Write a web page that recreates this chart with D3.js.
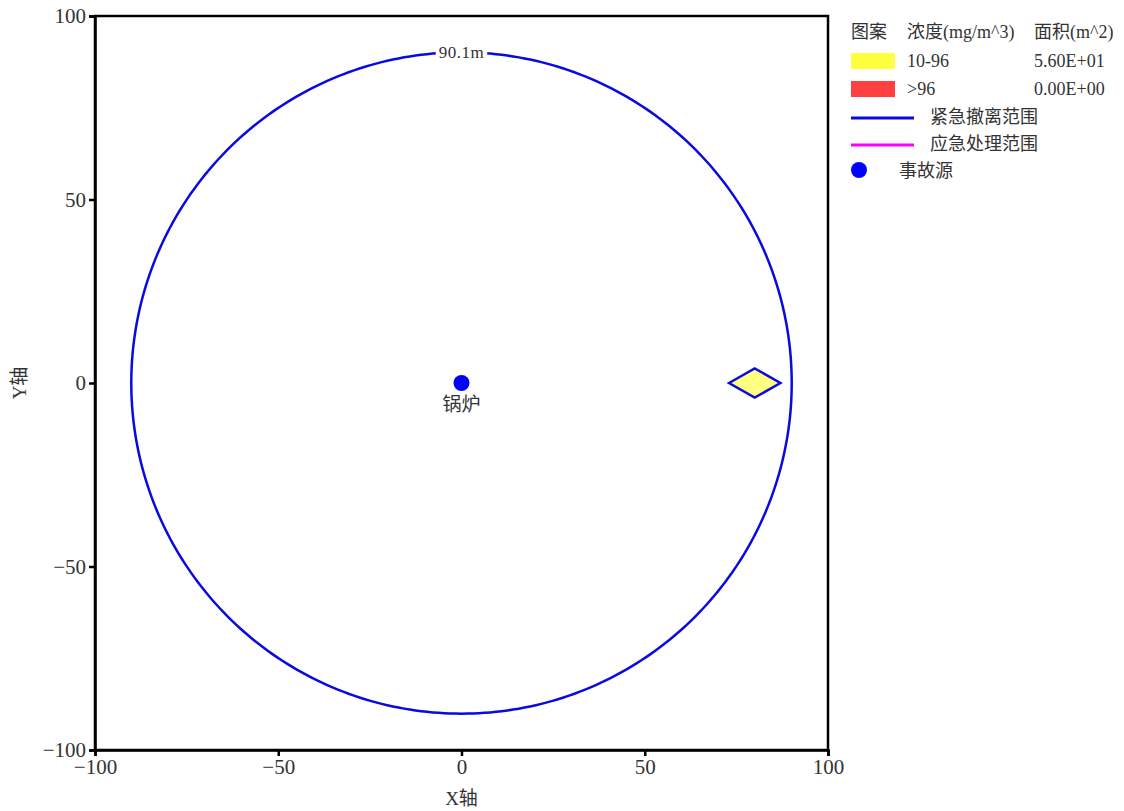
<!DOCTYPE html>
<html><head><meta charset="utf-8">
<script src="https://cdn.jsdelivr.net/npm/d3@7"></script>
<style>
body{margin:0;background:#fff;}
text{font-family:"Liberation Serif","Noto Sans CJK SC",serif;}
</style></head>
<body>
<svg id="c" width="1124" height="811"></svg>
<script>
// ---- data ----
const xTicks = [-100, -50, 0, 50, 100];
const yTicks = [-100, -50, 0, 50, 100];
const source = {name: "锅炉", x: 0, y: 0};
const evacRadius = 90.1;
const evacLabel = "90.1m";
const zonePolygon = [[73, 0], [80, 4], [87, 0], [80, -4]];
const legendHeader = ["图案", "浓度(mg/m^3)", "面积(m^2)"];
const legendConc = ["10-96", ">96"];
const legendArea = ["5.60E+01", "0.00E+00"];
const legendFill = ["#ffff40", "#ff4040"];
const legendLines = ["紧急撤离范围", "应急处理范围"];
const legendLineColors = ["#0a0ae0", "#ff00ff"];
const legendSource = "事故源";

// ---- layout ----
const svg = d3.select("#c");
const L = 95, R = 828, T = 16, B = 750;
const x = d3.scaleLinear().domain([-100, 100]).range([L, R]);
const y = d3.scaleLinear().domain([-100, 100]).range([B, T]);
const blue = "#0a0ae0";

// frame
svg.append("rect").attr("x", L).attr("y", T).attr("width", R - L).attr("height", B - T)
  .attr("fill", "none").attr("stroke", "#000").attr("stroke-width", 2.5);

const fmt = d => d < 0 ? "\u2212" + Math.abs(d) : d;
const xa = svg.append("g").attr("transform", `translate(0,${B})`)
  .call(d3.axisBottom(x).tickValues(xTicks).tickSize(6).tickPadding(3).tickFormat(fmt));
const ya = svg.append("g").attr("transform", `translate(${L},0)`)
  .call(d3.axisLeft(y).tickValues(yTicks).tickSize(6).tickPadding(3).tickFormat(fmt));
[xa, ya].forEach(a => {
  a.attr("font-size", 21).attr("font-family", "Liberation Serif");
  a.select(".domain").attr("stroke", "#000").attr("stroke-width", 2.5);
  a.selectAll(".tick line").attr("stroke", "#000").attr("stroke-width", 2.5);
  a.selectAll(".tick text").attr("fill", "#333");
});

svg.append("text").attr("x", x(0)).attr("y", 805).attr("text-anchor", "middle")
  .attr("font-size", "19px").attr("fill", "#333").text("X轴");
svg.append("text").attr("transform", `translate(26,${y(0)}) rotate(-90)`).attr("text-anchor", "middle")
  .attr("font-size", "19px").attr("fill", "#333").text("Y轴");

// evacuation circle
const circ = d3.range(0, 361, 1).map(a => [evacRadius * Math.cos(a * Math.PI / 180), evacRadius * Math.sin(a * Math.PI / 180)]);
svg.append("path").attr("d", d3.line().x(d => x(d[0])).y(d => y(d[1]))(circ))
  .attr("fill", "none").attr("stroke", blue).attr("stroke-width", 2.5);
// label with white background
const lblY = y(evacRadius);
const lg0 = svg.append("g");
const bg = lg0.append("rect").attr("fill", "#fff");
const lbl = lg0.append("text").attr("x", x(0)).attr("y", lblY + 6).attr("text-anchor", "middle")
  .attr("font-size", "17px").attr("font-family", "Liberation Serif").attr("letter-spacing", "0.5px")
  .attr("fill", "#333").text(evacLabel);
const bb = lbl.node().getBBox();
bg.attr("x", bb.x - 3).attr("y", lblY - 5).attr("width", bb.width + 6).attr("height", 10);

// concentration zone
svg.append("path").attr("d", d3.line().x(d => x(d[0])).y(d => y(d[1])).curve(d3.curveLinearClosed)(zonePolygon))
  .attr("fill", "#ffff80").attr("stroke", blue).attr("stroke-width", 2.5);

// source
svg.append("circle").attr("cx", x(source.x)).attr("cy", y(source.y)).attr("r", 8).attr("fill", "#0000ff");
svg.append("text").attr("x", x(source.x)).attr("y", y(source.y) + 28).attr("text-anchor", "middle")
  .attr("font-size", "19px").attr("fill", "#333").text(source.name);

// legend
const lg = svg.append("g").attr("font-size", "18px").attr("fill", "#333");
const cols = [851, 907, 1034];
legendHeader.forEach((t, i) => lg.append("text").attr("x", cols[i]).attr("y", 38).text(t));
legendConc.forEach((t, i) => {
  const yy = 61 + i * 28;
  lg.append("rect").attr("x", 851).attr("y", yy - 8).attr("width", 44).attr("height", 16).attr("fill", legendFill[i]);
  lg.append("text").attr("x", cols[1]).attr("y", yy + 6).text(t);
  lg.append("text").attr("x", cols[2]).attr("y", yy + 6).text(legendArea[i]);
});
legendLines.forEach((t, i) => {
  const yy = 117 + i * 27;
  lg.append("line").attr("x1", 851).attr("x2", 914).attr("y1", yy + 1).attr("y2", yy + 1)
    .attr("stroke", legendLineColors[i]).attr("stroke-width", 3);
  lg.append("text").attr("x", 930).attr("y", yy + 6).text(t);
});
lg.append("circle").attr("cx", 859).attr("cy", 170).attr("r", 8).attr("fill", "#0000ff");
lg.append("text").attr("x", 899).attr("y", 177).text(legendSource);
</script>
</body></html>
